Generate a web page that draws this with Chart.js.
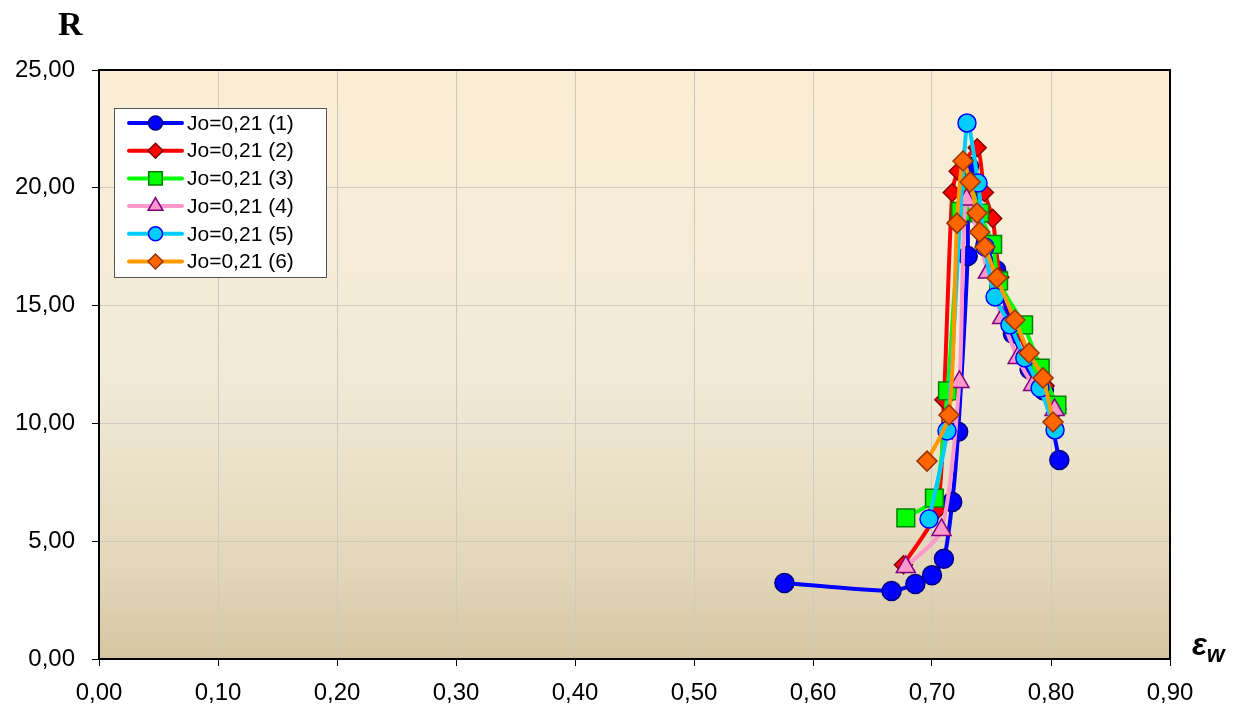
<!DOCTYPE html>
<html>
<head>
<meta charset="utf-8">
<script src="https://cdn.jsdelivr.net/npm/chart.js@4/dist/chart.umd.min.js"></script>
<style>
  body { margin: 0; background: #fff; }
  #wrap { position: relative; width: 1241px; height: 718px; }
  .title-r { position: absolute; left: 58px; top: 5px; font: bold 34px "Liberation Serif", "Times New Roman", serif; }
  .title-e { position: absolute; left: 1192px; top: 627px; font: italic bold 31px Arial, "Liberation Sans", sans-serif; }
  .title-e sub { font-size: 23px; }
</style>
</head>
<body>
<div id="wrap">
  <canvas id="chart" width="1241" height="718"></canvas>
  <div class="title-r">R</div>
  <div class="title-e">ε<sub>w</sub></div>
</div>
<script>
const xTicks = [0, 0.1, 0.2, 0.3, 0.4, 0.5, 0.6, 0.7, 0.8, 0.9];
const yTicks = [0, 5, 10, 15, 20, 25];

const seriesNames = ['Jo=0,21 (1)', 'Jo=0,21 (2)', 'Jo=0,21 (3)', 'Jo=0,21 (4)', 'Jo=0,21 (5)', 'Jo=0,21 (6)'];

const x1 = [0.576, 0.666, 0.686, 0.700, 0.710, 0.717, 0.722, 0.730, 0.731, 0.745, 0.754, 0.768, 0.782, 0.794, 0.807];
const y1 = [3.23, 2.89, 3.18, 3.55, 4.25, 6.66, 9.65, 17.1, 20.9, 17.6, 16.5, 13.8, 12.3, 11.4, 8.45];

const x2 = [0.676, 0.704, 0.710, 0.717, 0.722, 0.738, 0.744, 0.751, 0.757, 0.770, 0.783, 0.795, 0.805];
const y2 = [4.0, 6.3, 11.0, 19.8, 20.7, 21.7, 19.8, 18.7, 16.2, 14.2, 12.7, 11.6, 10.6];

const x3 = [0.678, 0.702, 0.713, 0.724, 0.731, 0.740, 0.751, 0.756, 0.777, 0.791, 0.805];
const y3 = [5.99, 6.83, 11.38, 19.0, 20.2, 18.93, 17.6, 16.05, 14.18, 12.35, 10.78];

const x4 = [0.678, 0.708, 0.723, 0.729, 0.747, 0.759, 0.772, 0.785, 0.803];
const y4 = [3.9, 5.48, 11.76, 19.5, 16.4, 14.47, 12.78, 11.63, 10.57];

const x5 = [0.6975, 0.7126, 0.7294, 0.7387, 0.7445, 0.753, 0.7655, 0.778, 0.7908, 0.8034];
const y5 = [5.94, 9.68, 22.75, 20.2, 17.49, 15.37, 14.18, 12.78, 11.5, 9.72];

const x6 = [0.6958, 0.7143, 0.721, 0.7261, 0.732, 0.7378, 0.740, 0.7445, 0.7546, 0.7697, 0.7815, 0.7933, 0.8017];
const y6 = [8.4, 10.36, 18.5, 21.14, 20.25, 18.93, 18.12, 17.49, 16.17, 14.39, 12.99, 11.93, 10.06];

const styles = [
  { line: '#0000FF', fill: '#0000FF', edge: '#000080', shape: 'circle', r: 9.5, lr: 7 },
  { line: '#FF0000', fill: '#FF0000', edge: '#800000', shape: 'rectRot', r: 9, lr: 7.5 },
  { line: '#00FF00', fill: '#00FF00', edge: '#008000', shape: 'rect', r: 12.5, lr: 9.5 },
  { line: '#FF99CC', fill: '#FF99CC', edge: '#800080', shape: 'triangle', r: 11, lr: 8.5 },
  { line: '#00CCFF', fill: '#00CCFF', edge: '#0000FF', shape: 'circle', r: 9, lr: 7 },
  { line: '#FF9900', fill: '#FF6600', edge: '#993300', shape: 'rectRot', r: 10, lr: 7.5 }
];

function toPoints(xs, ys) {
  return xs.map((x, i) => ({ x: x, y: ys[i] }));
}

const allData = [toPoints(x1, y1), toPoints(x2, y2), toPoints(x3, y3), toPoints(x4, y4), toPoints(x5, y5), toPoints(x6, y6)];

function fmt(v, d) {
  return Number(v).toFixed(d).replace('.', ',');
}

const plotBackground = {
  id: 'plotBackground',
  beforeDraw(chart) {
    const { ctx, chartArea: a } = chart;
    const g = ctx.createLinearGradient(0, a.top, 0, a.bottom);
    g.addColorStop(0, '#FCEED5');
    g.addColorStop(0.5, '#F2EBD8');
    g.addColorStop(0.85, '#E3D7BA');
    g.addColorStop(1, '#D5C5A0');
    ctx.save();
    ctx.fillStyle = g;
    ctx.fillRect(a.left, a.top, a.right - a.left, a.bottom - a.top);
    ctx.restore();
  },
  afterDatasetsDraw(chart) {
    const { ctx, chartArea: a } = chart;
    ctx.save();
    ctx.strokeStyle = '#000';
    ctx.lineWidth = 2;
    ctx.strokeRect(a.left, a.top, a.right - a.left, a.bottom - a.top);
    ctx.restore();
  }
};

function drawMarker(ctx, shape, x, y, r) {
  ctx.beginPath();
  if (shape === 'circle') {
    ctx.arc(x, y, r, 0, Math.PI * 2);
  } else if (shape === 'rectRot') {
    ctx.moveTo(x, y - r); ctx.lineTo(x + r, y); ctx.lineTo(x, y + r); ctx.lineTo(x - r, y);
  } else if (shape === 'rect') {
    const s = r * Math.SQRT1_2;
    ctx.rect(x - s, y - s, 2 * s, 2 * s);
  } else if (shape === 'triangle') {
    ctx.moveTo(x, y - r); ctx.lineTo(x + r * 0.87, y + r * 0.5); ctx.lineTo(x - r * 0.87, y + r * 0.5);
  }
  ctx.closePath();
  ctx.fill();
  ctx.stroke();
}

const boxLegend = {
  id: 'boxLegend',
  afterDraw(chart) {
    const ctx = chart.ctx;
    ctx.save();
    ctx.fillStyle = '#fff';
    ctx.strokeStyle = '#555';
    ctx.lineWidth = 1;
    ctx.fillRect(114.5, 108.5, 212, 169);
    ctx.strokeRect(114.5, 108.5, 212, 169);
    ctx.font = '21px Arial, "Liberation Sans", sans-serif';
    ctx.textBaseline = 'middle';
    seriesNames.forEach((name, i) => {
      const st = styles[i];
      const cy = 123 + i * 27.7;
      ctx.strokeStyle = st.line;
      ctx.lineWidth = 4;
      ctx.lineCap = 'round';
      ctx.beginPath();
      ctx.moveTo(129, cy);
      ctx.lineTo(182, cy);
      ctx.stroke();
      ctx.fillStyle = st.fill;
      ctx.strokeStyle = st.edge;
      ctx.lineWidth = 1.5;
      drawMarker(ctx, st.shape, 155.5, cy, st.lr);
      ctx.fillStyle = '#000';
      ctx.fillText(name, 187, cy + 1);
    });
    ctx.restore();
  }
};

const tickFont = { family: 'Arial, "Liberation Sans", sans-serif', size: 24 };

new Chart(document.getElementById('chart'), {
  type: 'scatter',
  data: {
    datasets: allData.map((pts, i) => ({
      label: seriesNames[i],
      data: pts,
      showLine: true,
      tension: 0.25,
      order: 5 - i,
      borderColor: styles[i].line,
      borderWidth: 4,
      pointStyle: styles[i].shape,
      pointRadius: styles[i].r,
      pointBackgroundColor: styles[i].fill,
      pointBorderColor: styles[i].edge,
      pointBorderWidth: 1.5
    }))
  },
  options: {
    responsive: false,
    animation: false,
    devicePixelRatio: 1,
    layout: { padding: { top: 70, right: 71, left: 0, bottom: 0 } },
    plugins: {
      legend: { display: false },
      tooltip: { enabled: false }
    },
    scales: {
      x: {
        type: 'linear',
        min: 0,
        max: 0.9,
        afterBuildTicks(scale) {
          scale.ticks = xTicks.map((v) => ({ value: v }));
        },
        afterFit(scale) {
          scale.height = 59;
        },
        ticks: {
          color: '#000',
          font: tickFont,
          padding: 13,
          maxRotation: 0,
          callback: (v) => fmt(v, 2)
        },
        grid: { color: '#CFCAC0', lineWidth: 1, tickColor: '#000', tickLength: 7 },
        border: { display: false }
      },
      y: {
        type: 'linear',
        min: 0,
        max: 25,
        afterBuildTicks(scale) {
          scale.ticks = yTicks.map((v) => ({ value: v }));
        },
        afterFit(scale) {
          scale.width = 99;
        },
        ticks: {
          color: '#000',
          font: tickFont,
          padding: 17,
          callback: (v) => fmt(v, 2)
        },
        grid: { color: '#CFCAC0', lineWidth: 1, tickColor: '#000', tickLength: 7 },
        border: { display: false }
      }
    }
  },
  plugins: [plotBackground, boxLegend]
});
</script>
</body>
</html>
